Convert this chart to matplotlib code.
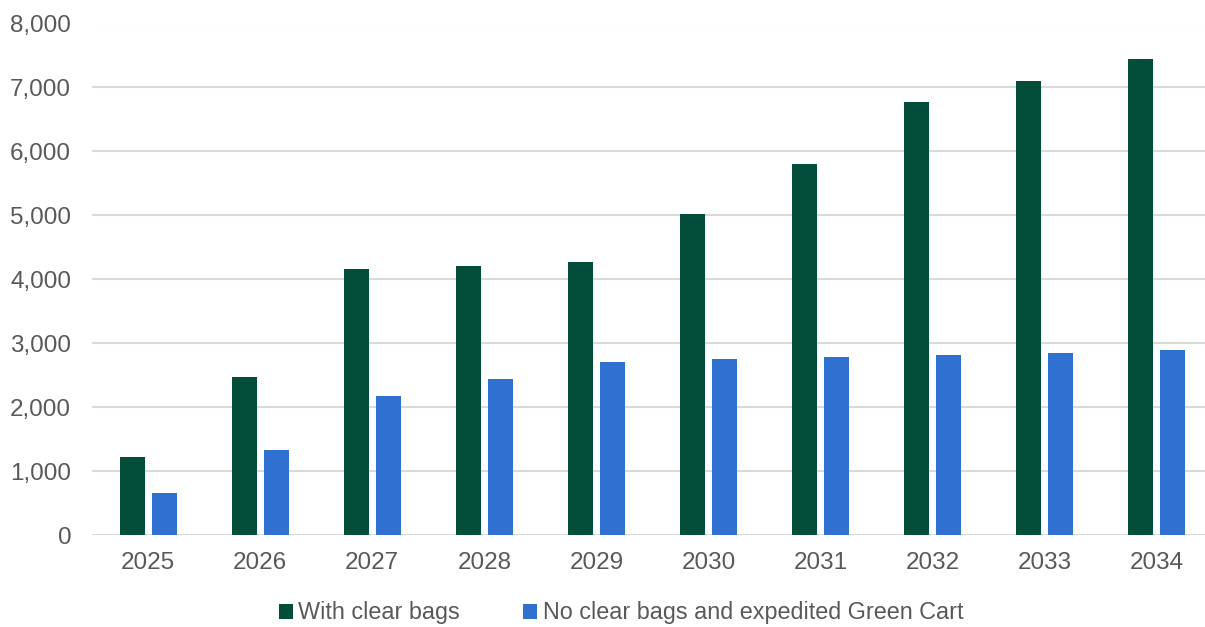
import numpy as np
import matplotlib.pyplot as plt
from matplotlib.ticker import FuncFormatter

plt.rcParams['font.family'] = ['Liberation Sans', 'DejaVu Sans']

years = ["2025", "2026", "2027", "2028", "2029", "2030", "2031", "2032", "2033", "2034"]
with_bags = [1215, 2465, 4155, 4215, 4275, 5025, 5810, 6775, 7105, 7445]
no_bags = [662, 1329, 2172, 2435, 2705, 2750, 2780, 2822, 2851, 2893]

labels = ["With clear bags", "No clear bags and expedited Green Cart"]
green = "#034E3B"
blue = "#2F70D0"
grey = "#595959"

fig = plt.figure(figsize=(12.05, 6.27), dpi=100)
ax = fig.add_axes([92 / 1205, 1 - 535 / 627, 1121 / 1205, 511.5 / 627])

x = np.arange(len(years))
w = 0.223
off = 0.143
ax.bar(x - off, with_bags, w, color=green, label=labels[0], zorder=3)
ax.bar(x + off, no_bags, w, color=blue, label=labels[1], zorder=3)

ax.set_xlim(-0.5, len(years) - 0.5)
ax.set_ylim(0, 8000)
ax.set_yticks(np.arange(0, 8001, 1000))
ax.yaxis.set_major_formatter(FuncFormatter(lambda v, p: f"{int(v):,}"))
ax.set_xticks(x)
ax.set_xticklabels(years)
ax.grid(axis="y", color="#d9d9d9", linewidth=1.5, zorder=0)
for s in ax.spines.values():
    s.set_visible(False)
ax.tick_params(length=0, labelsize=17.5, colors=grey)
ax.tick_params(axis="x", pad=12)
ax.tick_params(axis="y", pad=15)

fig.legend(loc="center", bbox_to_anchor=(621 / 1205, 1 - 613 / 627), ncol=2,
           frameon=False, fontsize=16.8, labelcolor=grey, handlelength=0.6,
           handleheight=0.6, handletextpad=0.25, columnspacing=2.7)

fig.savefig("out.png", dpi=100)
